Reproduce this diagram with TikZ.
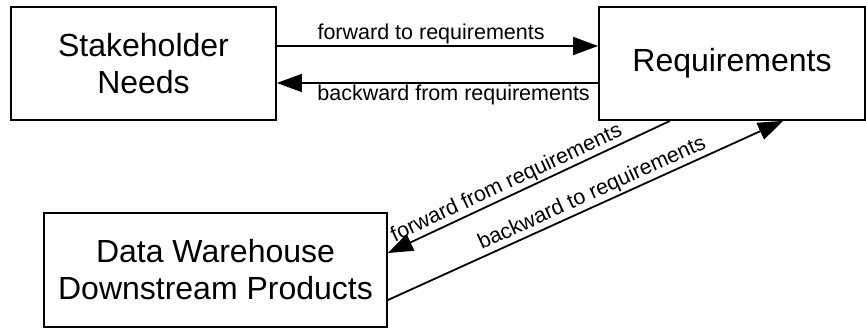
\documentclass[tikz,border=0pt]{standalone}
\usepackage{fontspec}
\setmainfont{Liberation Sans}
\usetikzlibrary{arrows.meta}
\begin{document}
\begin{tikzpicture}[x=1pt,y=-1pt,
  box/.style={draw, line width=1.8pt, inner sep=0pt, align=center,
    font=\fontsize{32}{37}\selectfont},
  lab/.style={font=\fontsize{21.5}{24}\selectfont, inner sep=1.5pt},
  conn/.style={line width=1.8pt, -{Triangle[length=25pt,width=18pt]}}]
\useasboundingbox (0,0) rectangle (866,331);
\node[box, minimum width=265pt, minimum height=113pt] (s) at (143.5,63.5) {Stakeholder\\Needs};
\node[box, minimum width=266pt, minimum height=113pt] (r) at (732,63.5) {Requirements};
\node[box, minimum width=343pt, minimum height=114pt] (d) at (215.5,270) {Data Warehouse\\Downstream Products};
\draw[conn] ([yshift=17.5pt]s.east) -- node[lab, above, pos=0.48]{forward to requirements} ([yshift=17.5pt]r.west);
\draw[conn] ([yshift=-19.5pt]r.west) -- node[lab, below, pos=0.45]{backward from requirements} ([yshift=-19.5pt]s.east);
\draw[conn] ([xshift=-62pt]r.south) -- node[lab, above, sloped, pos=0.56]{forward from requirements} ([yshift=17pt]d.east);
\draw[conn] ([yshift=-30pt]d.east) -- node[lab, above, sloped, pos=0.53]{backward to requirements} ([xshift=51pt]r.south);
\end{tikzpicture}
\end{document}
